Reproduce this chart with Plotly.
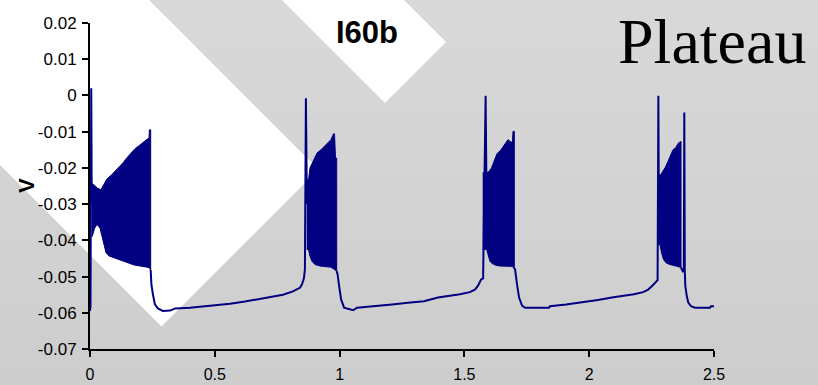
import plotly.graph_objects as go

# ---------------- data ----------------
# membrane potential (V) vs time (s): slow trace segments between bursts
seg_a_t = [0.000, 0.002, 0.005, 0.007]
seg_a_v = [-0.0595, -0.0582, 0.0020, -0.0300]

seg_b_t = [0.2432, 0.246, 0.252, 0.260, 0.272, 0.292, 0.321, 0.341, 0.401, 0.481,
           0.561, 0.621, 0.673, 0.721, 0.773, 0.813, 0.841, 0.849, 0.857, 0.861,
           0.865, 0.869]
seg_b_v = [-0.0482, -0.0522, -0.0549, -0.0577, -0.0588, -0.0595, -0.0594, -0.0588,
           -0.0586, -0.0581, -0.0575, -0.0569, -0.0563, -0.0556, -0.0550, -0.0541,
           -0.0531, -0.0522, -0.0505, -0.0480, -0.0008, -0.0300]

seg_c_t = [0.9884, 0.992, 0.998, 1.006, 1.018, 1.042, 1.054, 1.070, 1.146, 1.210,
           1.274, 1.338, 1.394, 1.442, 1.482, 1.522, 1.542, 1.554, 1.567, 1.575,
           1.585, 1.589]
seg_c_v = [-0.0485, -0.0494, -0.0526, -0.0563, -0.0586, -0.0591, -0.0593, -0.0586,
           -0.0582, -0.0577, -0.0572, -0.0568, -0.0558, -0.0554, -0.0549, -0.0543,
           -0.0536, -0.0526, -0.0508, -0.0505, -0.0001, -0.0300]

seg_d_t = [1.6999, 1.703, 1.711, 1.719, 1.731, 1.743, 1.839, 1.843, 1.907, 1.971,
           2.035, 2.091, 2.139, 2.179, 2.216, 2.236, 2.252, 2.268, 2.274, 2.277,
           2.279]
seg_d_v = [-0.0480, -0.0480, -0.0522, -0.0558, -0.0580, -0.0586, -0.0586, -0.0582,
           -0.0577, -0.0572, -0.0565, -0.0558, -0.0554, -0.0549, -0.0543, -0.0536,
           -0.0526, -0.0515, -0.0510, -0.0001, -0.0300]

seg_e_t = [2.3678, 2.375, 2.379, 2.381, 2.383, 2.385, 2.391, 2.397, 2.408, 2.424,
           2.484, 2.488, 2.500]
seg_e_v = [-0.0475, -0.0486, -0.0485, -0.0047, -0.0486, -0.0526, -0.0554, -0.0572,
           -0.0582, -0.0586, -0.0586, -0.0582, -0.0582]

# burst envelopes (upper = spike peaks, lower = troughs)
b1_up_t = [0.0068, 0.0200, 0.0321, 0.0441, 0.0561, 0.0681, 0.0841, 0.1002, 0.1162,
           0.1322, 0.1482, 0.1643, 0.1803, 0.1963, 0.2123, 0.2284, 0.2364, 0.2380,
           0.2432]
b1_up_v = [-0.0242, -0.0249, -0.0257, -0.0260, -0.0244, -0.0230, -0.0221, -0.0210,
           -0.0199, -0.0186, -0.0172, -0.0158, -0.0147, -0.0139, -0.0129, -0.0121,
           -0.0118, -0.0095, -0.0095]
b1_lo_t = [0.0068, 0.0092, 0.0180, 0.0280, 0.0401, 0.0481, 0.0561, 0.0641, 0.0761,
           0.0962, 0.1202, 0.1482, 0.1763, 0.2083, 0.2364, 0.2432]
b1_lo_v = [-0.0389, -0.0389, -0.0367, -0.0356, -0.0366, -0.0384, -0.0412, -0.0434,
           -0.0443, -0.0449, -0.0454, -0.0461, -0.0468, -0.0472, -0.0475, -0.0482]

b2_up_t = [0.8682, 0.8754, 0.8814, 0.8934, 0.9095, 0.9255, 0.9455, 0.9655, 0.9756,
           0.9796, 0.9836, 0.9884]
b2_up_v = [-0.0233, -0.0233, -0.0200, -0.0183, -0.0159, -0.0150, -0.0136, -0.0122,
           -0.0106, -0.0106, -0.0173, -0.0173]
b2_lo_t = [0.8682, 0.8754, 0.8814, 0.8894, 0.9014, 0.9215, 0.9655, 0.9776, 0.9884]
b2_lo_v = [-0.0425, -0.0425, -0.0444, -0.0458, -0.0467, -0.0471, -0.0474, -0.0480,
           -0.0485]

b3_up_t = [1.5733, 1.5905, 1.5986, 1.6086, 1.6186, 1.6306, 1.6466, 1.6627, 1.6747,
           1.6867, 1.6927, 1.6947, 1.6999]
b3_up_v = [-0.0214, -0.0213, -0.0210, -0.0200, -0.0182, -0.0161, -0.0150, -0.0133,
           -0.0122, -0.0129, -0.0128, -0.0099, -0.0099]
b3_lo_t = [1.5733, 1.5893, 1.5966, 1.6026, 1.6106, 1.6266, 1.6426, 1.6935, 1.6999]
b3_lo_v = [-0.0425, -0.0425, -0.0444, -0.0458, -0.0464, -0.0469, -0.0471, -0.0472,
           -0.0480]

b4_up_t = [2.2745, 2.2877, 2.2937, 2.3037, 2.3157, 2.3257, 2.3357, 2.3458, 2.3578,
           2.3678]
b4_up_v = [-0.0219, -0.0219, -0.0210, -0.0200, -0.0182, -0.0164, -0.0150, -0.0145,
           -0.0131, -0.0127]
b4_lo_t = [2.2745, 2.2837, 2.2897, 2.2977, 2.3077, 2.3237, 2.3478, 2.3678]
b4_lo_v = [-0.0412, -0.0412, -0.0434, -0.0453, -0.0462, -0.0467, -0.0471, -0.0475]

x_ticks = [0, 0.5, 1, 1.5, 2, 2.5]
x_tick_text = ["0", "0.5", "1", "1.5", "2", "2.5"]
y_ticks = [-0.07, -0.06, -0.05, -0.04, -0.03, -0.02, -0.01, 0, 0.01, 0.02]
y_tick_text = ["-0.07", "-0.06", "-0.05", "-0.04", "-0.03", "-0.02", "-0.01", "0",
               "0.01", "0.02"]

# ---------------- layout geometry ----------------
W, H = 818, 385
ML, MR, MT, MB = 90, 104, 23, 36
PW, PH = W - ML - MR, H - MT - MB
NAVY = "#000080"


def px(x):
    return (x - ML) / PW


def py(y):
    return (H - MB - y) / PH


fig = go.Figure()

# bursts: filled band between trough and peak envelopes
bursts = [(b1_up_t, b1_up_v, b1_lo_t, b1_lo_v),
          (b2_up_t, b2_up_v, b2_lo_t, b2_lo_v),
          (b3_up_t, b3_up_v, b3_lo_t, b3_lo_v),
          (b4_up_t, b4_up_v, b4_lo_t, b4_lo_v)]
for ut, uv, lt, lv in bursts:
    fig.add_trace(go.Scatter(
        x=ut + lt[::-1], y=uv + lv[::-1], mode="lines", fill="toself",
        fillcolor=NAVY, line=dict(color=NAVY, width=1), hoverinfo="skip",
        showlegend=False))

# slow membrane potential with single spikes
slow_t, slow_v = [], []
for st, sv in [(seg_a_t, seg_a_v), (seg_b_t, seg_b_v), (seg_c_t, seg_c_v),
               (seg_d_t, seg_d_v), (seg_e_t, seg_e_v)]:
    slow_t += st + [None]
    slow_v += sv + [None]
fig.add_trace(go.Scatter(x=slow_t, y=slow_v, mode="lines",
                         line=dict(color=NAVY, width=2), showlegend=False))

# ---------------- background: vertical grey gradient + white diagonal bands ----------------
shapes = []
n_strips = 48
top_rgb, bot_rgb = (217, 217, 217), (205, 205, 205)
for i in range(n_strips):
    f = i / (n_strips - 1)
    c = tuple(round(top_rgb[k] + (bot_rgb[k] - top_rgb[k]) * f) for k in range(3))
    y0 = i * H / n_strips
    y1 = (i + 1) * H / n_strips + 1
    shapes.append(dict(type="rect", xref="paper", yref="paper", layer="below",
                       x0=px(0), x1=px(W), y0=py(y1), y1=py(y0),
                       fillcolor="rgb(%d,%d,%d)" % c, line=dict(width=0)))


def band(poly):
    d = "M " + " L ".join("%.5f,%.5f" % (px(a), py(b)) for a, b in poly) + " Z"
    return dict(type="path", xref="paper", yref="paper", layer="below", path=d,
                fillcolor="white", line=dict(width=0))


shapes.append(band([(161.5, 326.5), (318.5, 169.5), (-125.5, -274.5), (-282.5, -117.5)]))
shapes.append(band([(385, 103), (446, 42), (2, -402), (-59, -341)]))

x_font = dict(family="Arial, Liberation Sans, sans-serif", size=16, color="black")
y_font = dict(family="Arial, Liberation Sans, sans-serif", size=17, color="black")

fig.update_layout(
    width=W, height=H,
    margin=dict(l=ML, r=MR, t=MT, b=MB, pad=0, autoexpand=False),
    paper_bgcolor="rgb(210,210,210)",
    plot_bgcolor="rgba(0,0,0,0)",
    shapes=shapes,
    showlegend=False,
    xaxis=dict(range=[0, 2.5], tickvals=x_ticks, ticktext=x_tick_text,
               showgrid=False, zeroline=False, showline=True, linecolor="black",
               linewidth=2, ticks="outside", ticklen=6, tickwidth=2,
               tickcolor="black", tickfont=x_font, ticklabelstandoff=4,
               automargin=False),
    yaxis=dict(range=[-0.07, 0.02], tickvals=y_ticks, ticktext=y_tick_text,
               showgrid=False, zeroline=False, showline=True, linecolor="black",
               linewidth=2, ticks="outside", ticklen=6, tickwidth=2,
               tickcolor="black", tickfont=y_font, ticklabelstandoff=2,
               automargin=False),
    annotations=[
        dict(text="<b>I60b</b>", x=px(366.7), y=py(32.6), xref="paper", yref="paper",
             showarrow=False, xanchor="center", yanchor="middle",
             font=dict(family="Arial, Liberation Sans, sans-serif", size=31, color="black")),
        dict(text="Plateau", x=px(711.5), y=py(41.4), xref="paper", yref="paper",
             showarrow=False, xanchor="center", yanchor="middle",
             font=dict(family="Times New Roman, Liberation Serif, serif", size=64,
                       color="black")),
        dict(text="<b>V</b>", x=px(26), y=py(186), xref="paper", yref="paper",
             showarrow=False, xanchor="center", yanchor="middle", textangle=-90,
             font=dict(family="Arial, Liberation Sans, sans-serif", size=22, color="black")),
    ],
)

fig.write_html("out.html")
